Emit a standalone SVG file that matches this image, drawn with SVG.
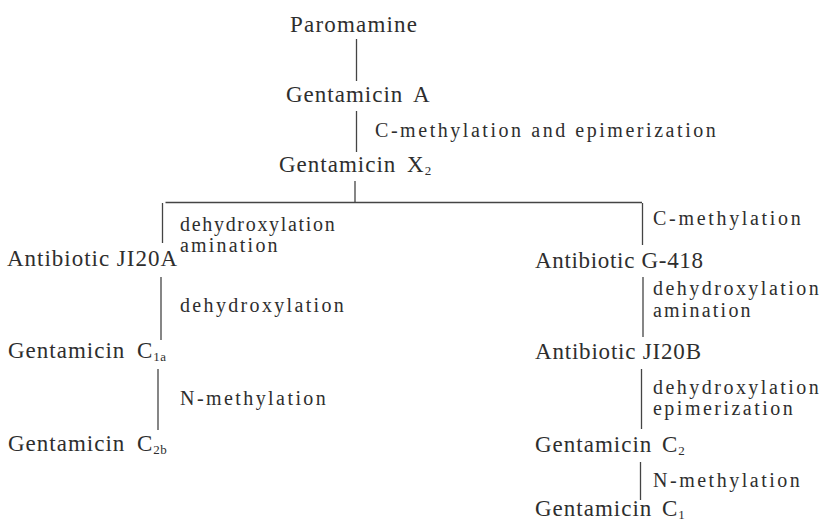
<svg xmlns="http://www.w3.org/2000/svg" width="826" height="523" viewBox="0 0 826 523">
<style>
text{font-family:"Liberation Serif","Times New Roman",serif;fill:#2e2e2e}
.n{font-size:23px;letter-spacing:1px}
.l{font-size:20px;letter-spacing:2.2px}
.s{font-size:13px;letter-spacing:0.5px}
.c line{stroke:#444;stroke-width:1.3}
</style>
<rect width="826" height="523" fill="#ffffff"/>
<g class="c" id="connectors">
<line x1="356.5" y1="39" x2="356.5" y2="81"/>
<line x1="356.5" y1="111" x2="356.5" y2="152"/>
<line x1="355" y1="181" x2="355" y2="202.5"/>
<line x1="165.5" y1="202.5" x2="642" y2="202.5"/>
<line x1="162.5" y1="203" x2="162.5" y2="243"/>
<line x1="642.5" y1="203" x2="642.5" y2="245"/>
<line x1="161" y1="277" x2="161" y2="340"/>
<line x1="158" y1="369" x2="158" y2="430"/>
<line x1="643" y1="277" x2="643" y2="337"/>
<line x1="641.5" y1="369" x2="641.5" y2="429"/>
<line x1="640.5" y1="462" x2="640.5" y2="500"/>
</g>
<g id="paromamine"><text class="n" x="290" y="32" textLength="128">Paromamine</text></g>
<g id="gentamicin-a"><text class="n" x="286" y="102">Gentamicin<tspan x="413">A</tspan></text></g>
<g id="label-cmeth-epim"><text class="l" x="375" y="137" textLength="343">C-methylation and epimerization</text></g>
<g id="gentamicin-x2"><text class="n" x="279" y="172">Gentamicin<tspan x="407">X</tspan><tspan class="s" dy="3">2</tspan></text></g>
<g id="label-left-1"><text class="l" x="180" y="231" textLength="157">dehydroxylation</text><text class="l" x="180" y="252">amination</text></g>
<g id="jI20a"><text class="n" x="7" y="266" textLength="171">Antibiotic JI20A</text></g>
<g id="label-left-2"><text class="l" x="180" y="312" textLength="166">dehydroxylation</text></g>
<g id="gentamicin-c1a"><text class="n" x="8" y="358">Gentamicin<tspan x="137">C</tspan><tspan class="s" dy="3">1a</tspan></text></g>
<g id="label-left-3"><text class="l" x="180" y="405" textLength="148">N-methylation</text></g>
<g id="gentamicin-c2b"><text class="n" x="8" y="451">Gentamicin<tspan x="137">C</tspan><tspan class="s" dy="3">2b</tspan></text></g>
<g id="label-right-1"><text class="l" x="653" y="225" textLength="150">C-methylation</text></g>
<g id="g418"><text class="n" x="535" y="268" textLength="169">Antibiotic G-418</text></g>
<g id="label-right-2"><text class="l" x="653" y="295" textLength="168">dehydroxylation</text><text class="l" x="653" y="317">amination</text></g>
<g id="jI20b"><text class="n" x="535" y="359" textLength="167">Antibiotic JI20B</text></g>
<g id="label-right-3"><text class="l" x="653" y="394" textLength="168">dehydroxylation</text><text class="l" x="653" y="415" textLength="142">epimerization</text></g>
<g id="gentamicin-c2"><text class="n" x="535" y="452">Gentamicin<tspan x="662">C</tspan><tspan class="s" dy="3">2</tspan></text></g>
<g id="label-right-4"><text class="l" x="653" y="487" textLength="149">N-methylation</text></g>
<g id="gentamicin-c1"><text class="n" x="535" y="516">Gentamicin<tspan x="662">C</tspan><tspan class="s" dy="3">1</tspan></text></g>
</svg>
